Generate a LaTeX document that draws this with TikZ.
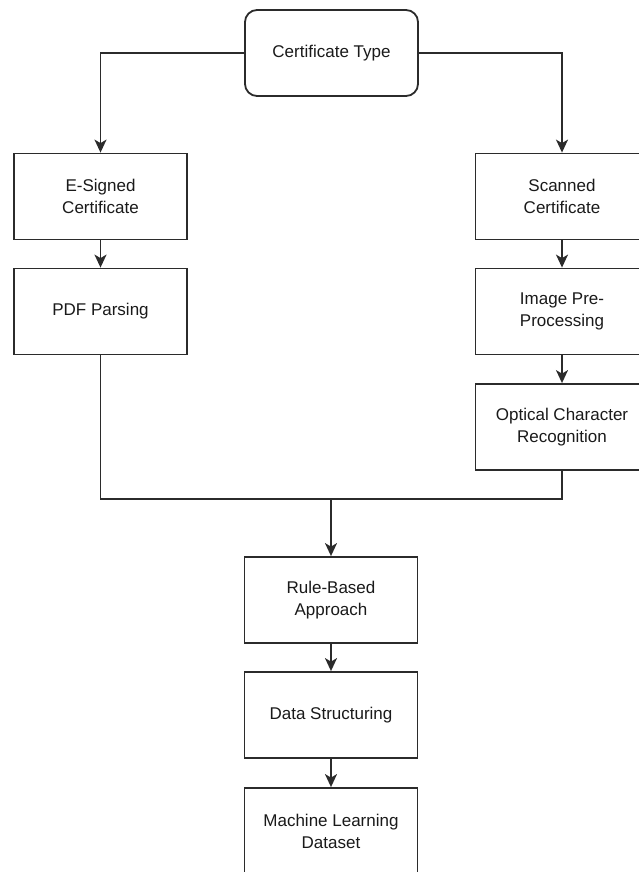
\documentclass[tikz,border=0pt]{standalone}
\usepackage{fontspec}
\setmainfont{Liberation Sans}
\usetikzlibrary{arrows.meta}
\definecolor{ln}{HTML}{2B2B2B}
\definecolor{tx}{HTML}{1A1A1A}
\begin{document}
\begin{tikzpicture}[x=1pt,y=-1pt,
  box/.style={draw=ln,line width=1.8pt,fill=white,minimum width=173pt,minimum height=86pt,align=center,text=tx,
    font=\fontsize{17}{22}\selectfont,inner sep=0pt},
  rbox/.style={box,rounded corners=12pt},
  conn/.style={draw=ln,line width=1.8pt,-{Stealth[length=13pt,width=12pt,inset=3.5pt]}},
  plain/.style={draw=ln,line width=1.8pt}]
\useasboundingbox (0,0) rectangle (638,872);
\node[rbox] (ct) at (331.5,53) {Certificate Type};
\node[box] (es) at (100.5,196.5) {E-Signed\\Certificate};
\node[box] (pdf) at (100.5,311.5) {PDF Parsing};
\node[box] (sc) at (562,196.5) {Scanned\\Certificate};
\node[box] (ipp) at (562,311.5) {Image Pre-\\Processing};
\node[box] (ocr) at (562,427) {Optical Character\\Recognition};
\node[box] (rb) at (331,600) {Rule-Based\\Approach};
\node[box] (ds) at (331,715) {Data Structuring};
\node[box] (ml) at (331,831) {Machine Learning\\Dataset};
\coordinate (mj) at (331,499);
\draw[conn] (ct.west) -| (es.north);
\draw[conn] (ct.east) -| (sc.north);
\draw[conn] (es) -- (pdf);
\draw[conn] (sc) -- (ipp);
\draw[conn] (ipp) -- (ocr);
\draw[plain] (pdf.south) |- (mj);
\draw[plain] (ocr.south) |- (mj);
\draw[conn] (mj) -- (rb.north);
\draw[conn] (rb) -- (ds);
\draw[conn] (ds) -- (ml);
\end{tikzpicture}
\end{document}
